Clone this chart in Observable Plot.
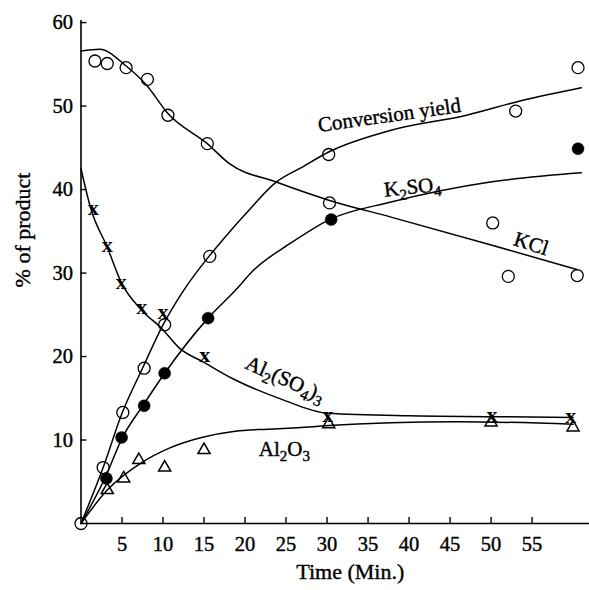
<!DOCTYPE html>
<html>
<head>
<meta charset="utf-8">
<script src="https://cdn.jsdelivr.net/npm/d3@7"></script>
<script src="https://cdn.jsdelivr.net/npm/@observablehq/plot@0.6"></script>
<style>
  html, body { margin: 0; padding: 0; background: #fff; }
  #chart svg { display: block; }
</style>
</head>
<body>
<div id="chart"></div>
<script>
// ---- tick values ----
const xTicks = [5, 10, 15, 20, 25, 30, 35, 40, 45, 50, 55];
const yTicks = [10, 20, 30, 40, 50, 60];

// ---- measured points (time in min, % of product) ----
const kclTime = [1.7, 3.2, 5.5, 8.1, 10.6, 15.4, 30.3, 50.2, 52.1, 60.5];
const kclPct  = [55.4, 55.1, 54.6, 53.2, 48.9, 45.5, 38.4, 36.0, 29.6, 29.7];

const convTime = [0, 2.7, 5.1, 7.7, 10.2, 15.7, 30.2, 53.0, 60.6];
const convPct  = [0, 6.7, 13.3, 18.6, 23.8, 32.0, 44.2, 49.4, 54.6];

const k2so4Time = [3.1, 4.95, 7.7, 10.2, 15.5, 30.5, 60.6];
const k2so4Pct  = [5.4, 10.3, 14.1, 18.0, 24.6, 36.4, 44.9];

const al2so43Time = [1.5, 3.2, 4.9, 7.4, 10.0, 15.1, 30.1, 50.1, 59.7];
const al2so43Pct  = [37.5, 33.1, 28.7, 25.7, 25.1, 19.9, 12.8, 12.8, 12.6];

const al2o3Time = [3.2, 5.2, 7.05, 10.2, 15.0, 30.2, 50.0, 60.0];
const al2o3Pct  = [4.0, 5.4, 7.6, 6.7, 8.8, 11.9, 12.1, 11.5];

// ---- fitted curves ----
const kclCurveTime = [0, 2.3, 5.5, 8.0, 10.6, 15.4, 18.1, 23.8, 30.3, 37.8, 49.9, 60.5];
const kclCurvePct  = [56.6, 56.8, 54.8, 52.5, 49.1, 45.5, 43.1, 40.9, 38.7, 36.7, 33.4, 30.4];

const convCurveTime = [0, 2.7, 5.0, 7.5, 10.0, 12.5, 15.6, 17.4, 20.0, 23.8, 26.8, 30.2, 37.8, 47.0, 53.9, 61.0];
const convCurvePct  = [0, 6.7, 13.2, 18.6, 23.8, 27.9, 32.0, 34.1, 37.0, 40.9, 42.6, 44.5, 47.1, 48.9, 50.7, 52.2];

const k2so4CurveTime = [0, 3.0, 5.0, 7.6, 10.2, 15.5, 18.8, 21.0, 25.6, 30.3, 37.8, 49.9, 61.0];
const k2so4CurvePct  = [0, 5.6, 10.2, 14.2, 18.0, 24.6, 27.9, 30.3, 33.6, 36.4, 38.5, 40.9, 42.0];

const al2so43CurveTime = [0, 1.2, 3.2, 5.0, 7.25, 9.9, 12.0, 15.0, 18.4, 24.4, 30.1, 40.0, 50.0, 60.0];
const al2so43CurvePct  = [42.5, 37.7, 33.1, 28.7, 25.7, 23.3, 21.0, 19.3, 17.4, 14.9, 13.2, 12.9, 12.8, 12.7];

const al2o3CurveTime = [0, 3.2, 7.4, 10.7, 14.7, 18.8, 22.8, 26.8, 29.7, 45.8, 60.0];
const al2o3CurvePct  = [0, 4.0, 7.3, 9.0, 10.3, 11.05, 11.3, 11.5, 11.7, 12.2, 11.9];

// ---- curve labels ----
const labelText = ["Conversion yield", "K₂SO₄", "KCl", "Al₂(SO₄)₃", "Al₂O₃"];
const labelTime = [37.6, 40.4, 54.9, 24.9, 24.8];
const labelPct  = [48.9, 40.3, 33.5, 17.3, 8.9];
const labelAngle = [-8, -6, 18, 24, 0];

const xTitle = "Time (Min.)";
const yTitle = "% of product";

// ---- build tables ----
const zip = (ts, vs) => ts.map((t, i) => ({t, v: vs[i]}));
const kclPts = zip(kclTime, kclPct);
const convPts = zip(convTime, convPct);
const k2so4Pts = zip(k2so4Time, k2so4Pct);
const al2so43Pts = zip(al2so43Time, al2so43Pct);
const al2o3Pts = zip(al2o3Time, al2o3Pct);
const curves = [
  zip(kclCurveTime, kclCurvePct),
  zip(convCurveTime, convCurvePct),
  zip(k2so4CurveTime, k2so4CurvePct),
  zip(al2so43CurveTime, al2so43CurvePct),
  zip(al2o3CurveTime, al2o3CurvePct)
];
const labels = labelText.map((s, i) => ({s, t: labelTime[i], v: labelPct[i], r: labelAngle[i]}));

const FONT = "'Liberation Serif', 'Times New Roman', serif";
const INK = {stroke: "black", strokeWidth: 0.4};

const plot = Plot.plot({
  width: 589,
  height: 590,
  marginLeft: 80.5,
  marginRight: 0,
  marginTop: 20,
  marginBottom: 67,
  style: {fontFamily: FONT, fontSize: "20px", color: "black", background: "white", overflow: "visible"},
  x: {domain: [0, 62], label: null},
  y: {domain: [0, 60.25], label: null},
  marks: [
    Plot.ruleY([0], {stroke: "black", strokeWidth: 1.6}),
    Plot.ruleX([0], {stroke: "black", strokeWidth: 1.6}),
    Plot.axisX({ticks: xTicks, tickSize: 6, dy: -6, tickPadding: 13, fontSize: 20.5, strokeWidth: 1.4, textStroke: "black", textStrokeWidth: 0.4, label: null, tickFormat: d => String(d)}),
    Plot.axisY({ticks: yTicks, tickSize: 6, dx: 6, tickPadding: 8, fontSize: 20.5, strokeWidth: 1.4, textStroke: "black", textStrokeWidth: 0.4, label: null, tickFormat: d => String(d)}),
    ...curves.map(c => Plot.line(c, {x: "t", y: "v", curve: "monotone-x", stroke: "black", strokeWidth: 1.5})),
    Plot.dot(kclPts, {x: "t", y: "v", r: 6, stroke: "black", strokeWidth: 1.3, fill: "none"}),
    Plot.dot(convPts, {x: "t", y: "v", r: 6, stroke: "black", strokeWidth: 1.3, fill: "none"}),
    Plot.dot(k2so4Pts, {x: "t", y: "v", r: 6, fill: "black", stroke: "black", strokeWidth: 0.5}),
    Plot.text(al2so43Pts, {x: "t", y: "v", text: () => "x", fontSize: 22, fontWeight: "bold", fill: "black", dy: -2}),
    Plot.dot(al2o3Pts, {x: "t", y: "v", symbol: "triangle", r: 4.5, stroke: "black", strokeWidth: 1.5, fill: "none"}),
    Plot.text(labels, {x: "t", y: "v", text: "s", rotate: "r", fontSize: 21, fill: "black", ...INK, className: "chem"}),
    Plot.text([yTitle], {text: d => d, frameAnchor: "left", textAnchor: "middle", lineAnchor: "middle", rotate: -90, dx: -58, dy: -42, fontSize: 22, fill: "black", ...INK}),
    Plot.text([xTitle], {text: d => d, frameAnchor: "bottom", textAnchor: "middle", lineAnchor: "middle", dx: 15, dy: 48, fontSize: 22, fill: "black", ...INK})
  ]
});

// render subscripts as real lowered digits
const subs = {"₂": "2", "₃": "3", "₄": "4"};
d3.select(plot).selectAll("g.chem text").each(function() {
  const el = d3.select(this);
  const s = el.text();
  el.text(null);
  let lowered = false;
  for (const ch of s) {
    const isSub = ch in subs;
    const ts = el.append("tspan").text(isSub ? subs[ch] : ch);
    if (isSub && !lowered) { ts.attr("dy", 5); lowered = true; }
    else if (!isSub && lowered) { ts.attr("dy", -5); lowered = false; }
    if (isSub) ts.attr("font-size", 15);
  }
});

document.getElementById("chart").appendChild(plot);
</script>
</body>
</html>
